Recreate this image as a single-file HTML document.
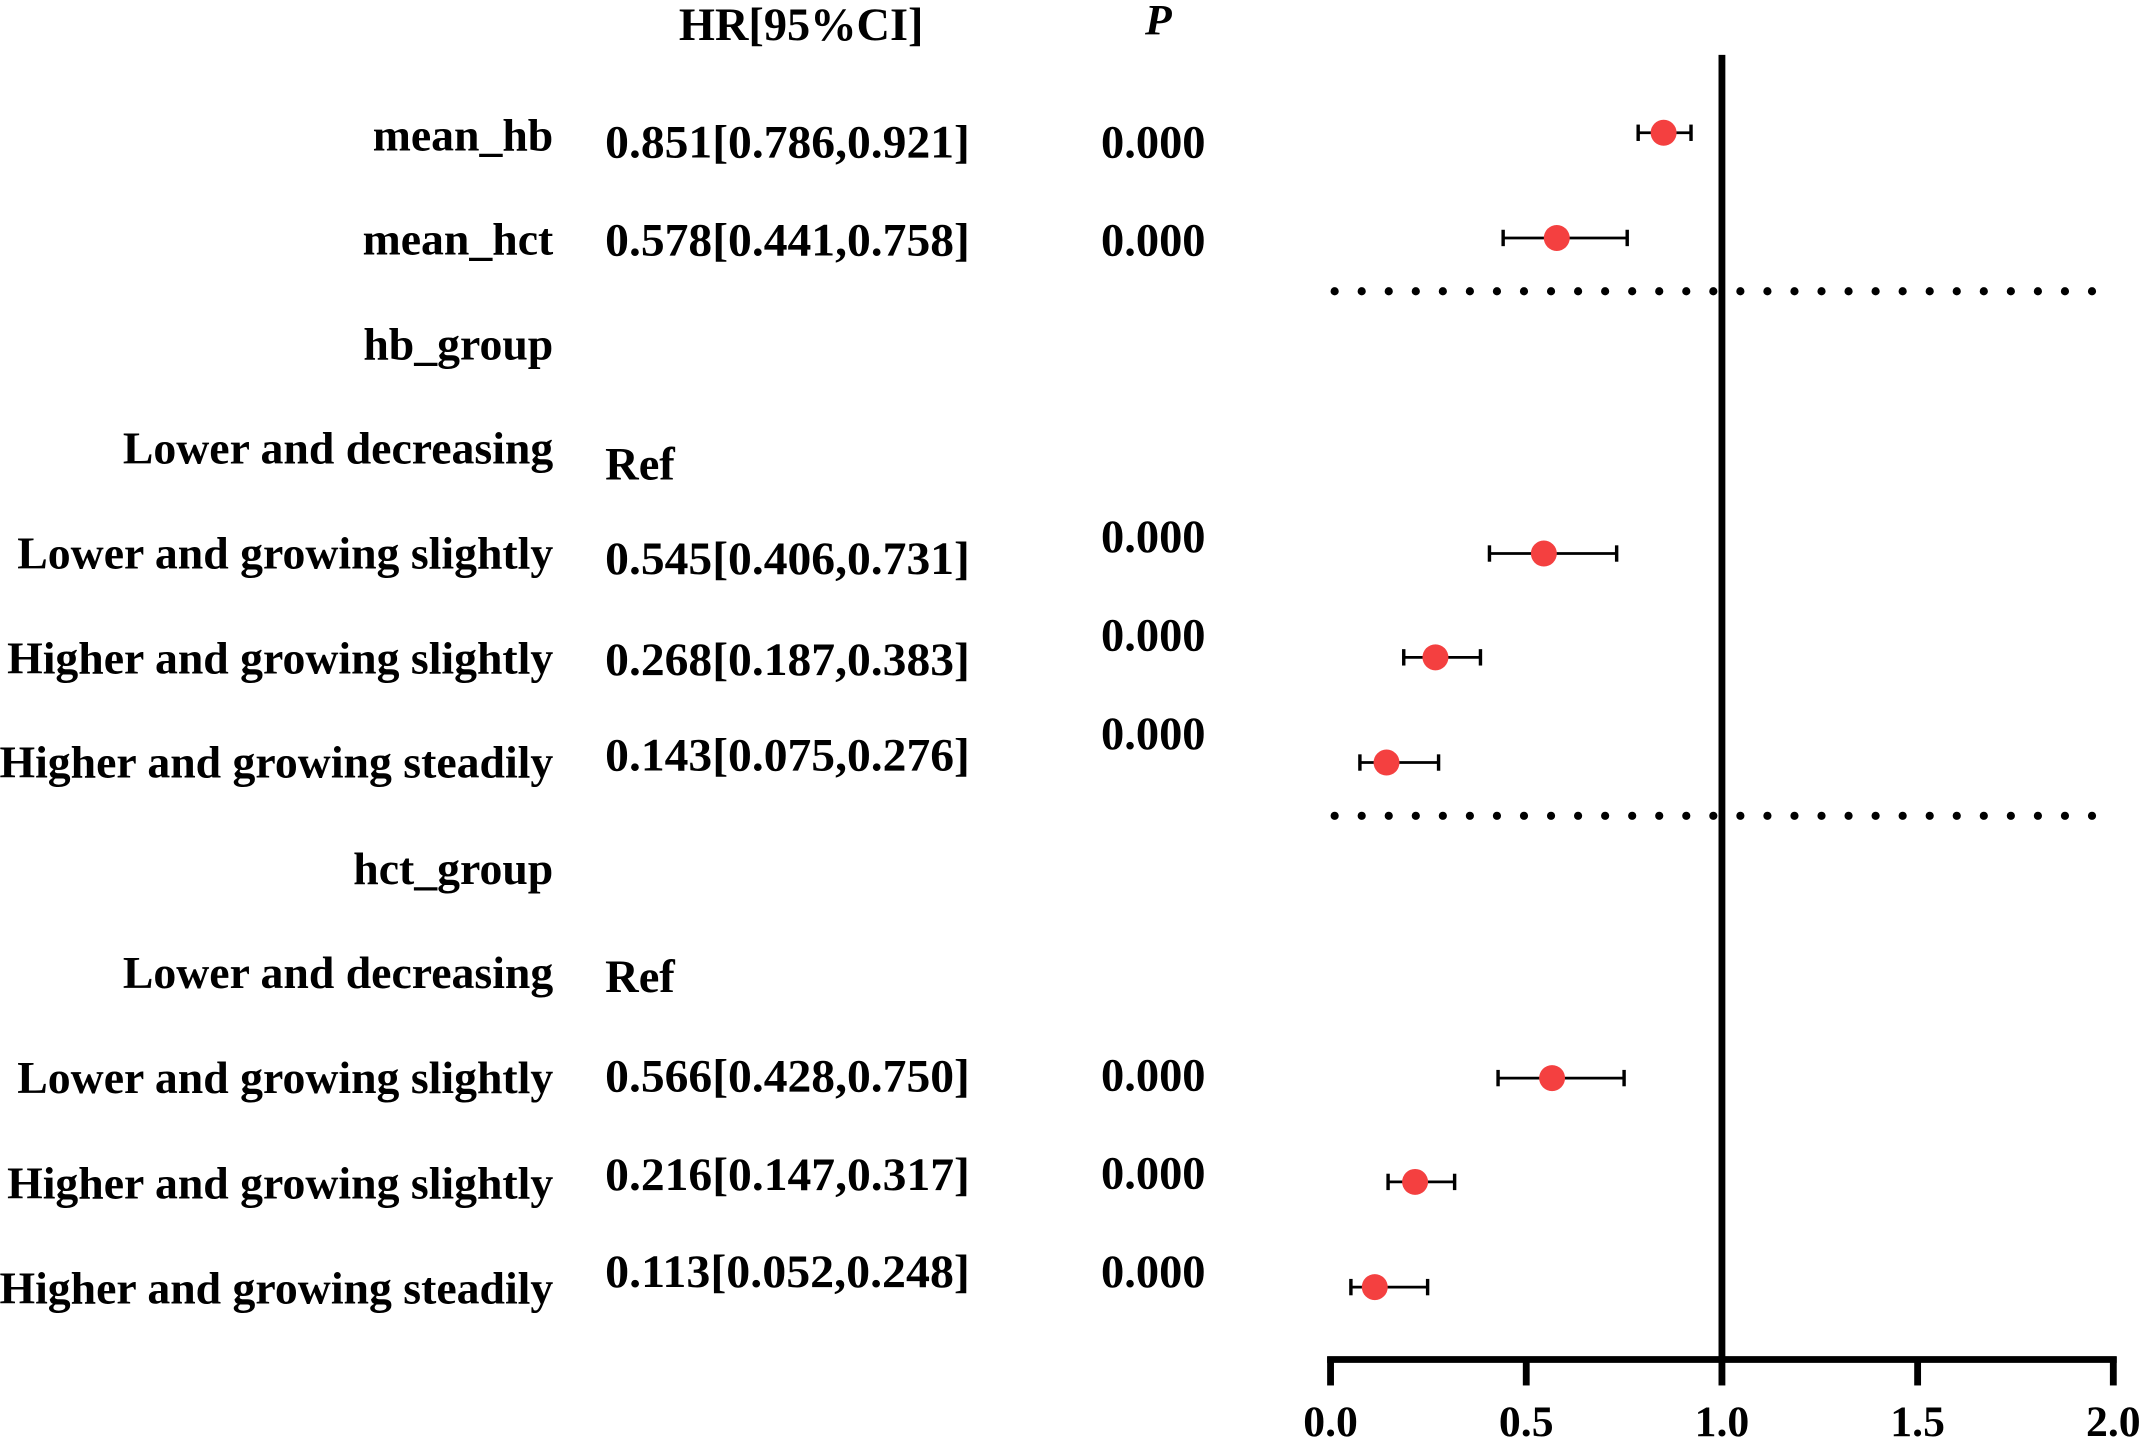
<!DOCTYPE html>
<html><head><meta charset="utf-8"><style>
html,body{margin:0;padding:0;background:#fff;}
svg{display:block;}
text{font-family:"Liberation Serif",serif;font-weight:bold;fill:#000;}
</style></head><body>
<svg id="chart" width="2142" height="1439" viewBox="0 0 1568 1053" xmlns="http://www.w3.org/2000/svg">
<g id="labels"></g>
<g id="plot"></g>
</svg>
<script>
const rowLabels = ["mean_hb","mean_hct","hb_group","Lower and decreasing","Lower and growing slightly","Higher and growing slightly","Higher and growing steadily","hct_group","Lower and decreasing","Lower and growing slightly","Higher and growing slightly","Higher and growing steadily"];
const rowY = [100,176,253,329,406,483,559,637,713,790,867,944];
const hrText = ["0.851[0.786,0.921]","0.578[0.441,0.758]","","Ref","0.545[0.406,0.731]","0.268[0.187,0.383]","0.143[0.075,0.276]","","Ref","0.566[0.428,0.750]","0.216[0.147,0.317]","0.113[0.052,0.248]"];
const hrTextY = [104,176,0,340,409,483,553,0,715,788,860,931];
const pText = ["0.000","0.000","","","0.000","0.000","0.000","","","0.000","0.000","0.000"];
const pTextY = [104,176,0,0,393,465,537,0,0,787,859,931];
const hr = [0.851,0.578,null,null,0.545,0.268,0.143,null,null,0.566,0.216,0.113];
const lo = [0.786,0.441,null,null,0.406,0.187,0.075,null,null,0.428,0.147,0.052];
const hi = [0.921,0.758,null,null,0.731,0.383,0.276,null,null,0.750,0.317,0.248];
const pointY = [97,174,0,0,405,481,558,0,0,789,865,942];
const ticks = [0.0,0.5,1.0,1.5,2.0];
const tickLabels = ["0.0","0.5","1.0","1.5","2.0"];

const NS="http://www.w3.org/2000/svg";
const xScale = v => 974 + (v-0)/(2-0)*(1547-974);
function mk(tag, attrs, parent){const e=document.createElementNS(NS,tag);for(const k in attrs)e.setAttribute(k,attrs[k]);parent.appendChild(e);return e;}
const L=document.getElementById('labels'), P=document.getElementById('plot');

let t=mk('text',{x:497,y:29,'font-size':34,textLength:179,lengthAdjust:'spacingAndGlyphs'},L);t.textContent="HR[95%CI]";


t=mk('text',{x:848,y:25,'font-size':32,'text-anchor':'middle','font-style':'italic'},L);t.textContent="P";



rowLabels.forEach((s,i)=>{
  const a=mk('text',{x:405,y:rowY[i]+10,'font-size':33.5,'text-anchor':'end'},L);a.textContent=s;
  
  
  if(hrText[i]){
    const at={x:443,y:hrTextY[i]+11,'font-size':34};
    if(hrText[i].length>5){at.textLength=267;at.lengthAdjust='spacingAndGlyphs';}
    const b=mk('text',at,L);b.textContent=hrText[i];
    
    }
  if(pText[i]){const c=mk('text',{x:806,y:pTextY[i]+11,'font-size':34},L);c.textContent=pText[i];
    
    }
});

[213,597].forEach(y=>{
  const d=mk('line',{x1:977,y1:y,x2:1535,y2:y,stroke:'#000','stroke-width':6,'stroke-linecap':'round','stroke-dasharray':'0 19.8'},P);
  
  
});
let r=mk('line',{x1:xScale(1),y1:40,x2:xScale(1),y2:995,stroke:'#000','stroke-width':5},P);


let ax=mk('line',{x1:xScale(0)-2.5,y1:995,x2:xScale(2)+2.5,y2:995,stroke:'#000','stroke-width':5},P);


ticks.forEach((v,i)=>{
  const tk=mk('line',{x1:xScale(v),y1:993,x2:xScale(v),y2:1014,stroke:'#000','stroke-width':5},P);
  
  
  const tl=mk('text',{x:xScale(v),y:1051,'font-size':32,'text-anchor':'middle'},P);tl.textContent=tickLabels[i];
  
  
});
hr.forEach((v,i)=>{
  if(v===null)return;
  const y=pointY[i];
  const g=mk('g',{},P);
  
  
  mk('line',{x1:xScale(lo[i]),y1:y,x2:xScale(hi[i]),y2:y,stroke:'#000','stroke-width':2},g);
  mk('line',{x1:xScale(lo[i]),y1:y-6,x2:xScale(lo[i]),y2:y+6,stroke:'#000','stroke-width':2.5},g);
  mk('line',{x1:xScale(hi[i]),y1:y-6,x2:xScale(hi[i]),y2:y+6,stroke:'#000','stroke-width':2.5},g);
  mk('circle',{cx:xScale(v),cy:y,r:9.5,fill:'#f44040'},g);
});
</script>
</body></html>
